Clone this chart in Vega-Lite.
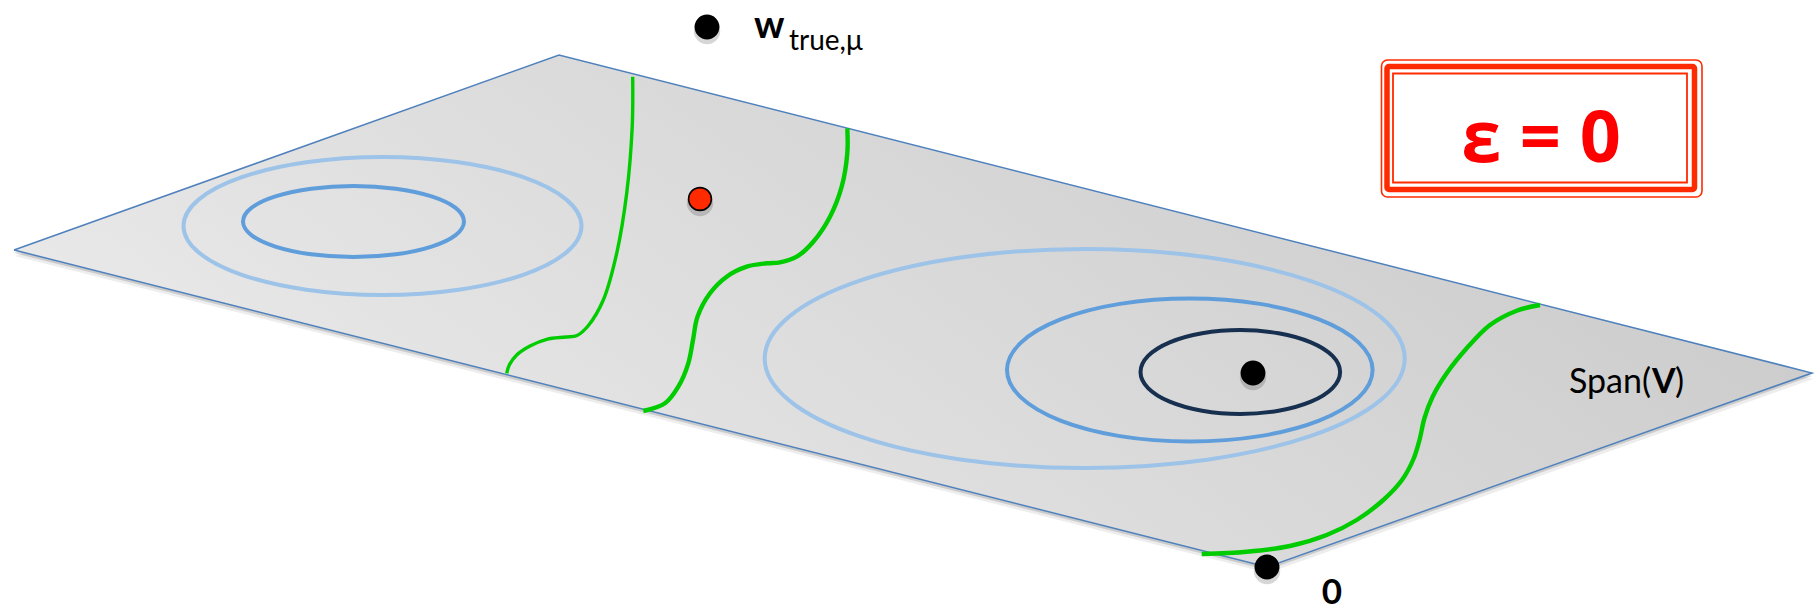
{
  "$schema": "https://vega.github.io/schema/vega-lite/v6.json",
  "width": 1820,
  "height": 611,
  "padding": 0,
  "autosize": {"type": "none"},
  "background": "white",
  "config": {"view": {"stroke": null}},
  "datasets": {
    "plane": [
      {"i": 0, "u": 14, "v": 250},
      {"i": 1, "u": 559, "v": 55},
      {"i": 2, "u": 1812, "v": 373},
      {"i": 3, "u": 1267, "v": 567},
      {"i": 4, "u": 14, "v": 250}
    ],
    "levels": [
      {"id": "L1", "level": "light", "i": 0, "u": 581.5, "v": 226},
      {"id": "L1", "level": "light", "i": 1, "u": 566.4, "v": 252.4},
      {"id": "L1", "level": "light", "i": 2, "u": 523.2, "v": 274.8},
      {"id": "L1", "level": "light", "i": 3, "u": 458.7, "v": 289.7},
      {"id": "L1", "level": "light", "i": 4, "u": 382.5, "v": 295},
      {"id": "L1", "level": "light", "i": 5, "u": 306.3, "v": 289.7},
      {"id": "L1", "level": "light", "i": 6, "u": 241.8, "v": 274.8},
      {"id": "L1", "level": "light", "i": 7, "u": 198.6, "v": 252.4},
      {"id": "L1", "level": "light", "i": 8, "u": 183.5, "v": 226},
      {"id": "L1", "level": "light", "i": 9, "u": 198.6, "v": 199.6},
      {"id": "L1", "level": "light", "i": 10, "u": 241.8, "v": 177.2},
      {"id": "L1", "level": "light", "i": 11, "u": 306.3, "v": 162.3},
      {"id": "L1", "level": "light", "i": 12, "u": 382.5, "v": 157},
      {"id": "L1", "level": "light", "i": 13, "u": 458.7, "v": 162.3},
      {"id": "L1", "level": "light", "i": 14, "u": 523.2, "v": 177.2},
      {"id": "L1", "level": "light", "i": 15, "u": 566.4, "v": 199.6},
      {"id": "L2", "level": "mid", "i": 0, "u": 464, "v": 221.5},
      {"id": "L2", "level": "mid", "i": 1, "u": 455.6, "v": 235.1},
      {"id": "L2", "level": "mid", "i": 2, "u": 431.6, "v": 246.6},
      {"id": "L2", "level": "mid", "i": 3, "u": 395.8, "v": 254.3},
      {"id": "L2", "level": "mid", "i": 4, "u": 353.5, "v": 257},
      {"id": "L2", "level": "mid", "i": 5, "u": 311.2, "v": 254.3},
      {"id": "L2", "level": "mid", "i": 6, "u": 275.4, "v": 246.6},
      {"id": "L2", "level": "mid", "i": 7, "u": 251.4, "v": 235.1},
      {"id": "L2", "level": "mid", "i": 8, "u": 243, "v": 221.5},
      {"id": "L2", "level": "mid", "i": 9, "u": 251.4, "v": 207.9},
      {"id": "L2", "level": "mid", "i": 10, "u": 275.4, "v": 196.4},
      {"id": "L2", "level": "mid", "i": 11, "u": 311.2, "v": 188.7},
      {"id": "L2", "level": "mid", "i": 12, "u": 353.5, "v": 186},
      {"id": "L2", "level": "mid", "i": 13, "u": 395.8, "v": 188.7},
      {"id": "L2", "level": "mid", "i": 14, "u": 431.6, "v": 196.4},
      {"id": "L2", "level": "mid", "i": 15, "u": 455.6, "v": 207.9},
      {"id": "R1", "level": "light", "i": 0, "u": 1404.7, "v": 358.5},
      {"id": "R1", "level": "light", "i": 1, "u": 1380.3, "v": 400.4},
      {"id": "R1", "level": "light", "i": 2, "u": 1311, "v": 435.9},
      {"id": "R1", "level": "light", "i": 3, "u": 1207.2, "v": 459.7},
      {"id": "R1", "level": "light", "i": 4, "u": 1084.7, "v": 468},
      {"id": "R1", "level": "light", "i": 5, "u": 962.2, "v": 459.7},
      {"id": "R1", "level": "light", "i": 6, "u": 858.4, "v": 435.9},
      {"id": "R1", "level": "light", "i": 7, "u": 789.1, "v": 400.4},
      {"id": "R1", "level": "light", "i": 8, "u": 764.7, "v": 358.5},
      {"id": "R1", "level": "light", "i": 9, "u": 789.1, "v": 316.6},
      {"id": "R1", "level": "light", "i": 10, "u": 858.4, "v": 281.1},
      {"id": "R1", "level": "light", "i": 11, "u": 962.2, "v": 257.3},
      {"id": "R1", "level": "light", "i": 12, "u": 1084.7, "v": 249},
      {"id": "R1", "level": "light", "i": 13, "u": 1207.2, "v": 257.3},
      {"id": "R1", "level": "light", "i": 14, "u": 1311, "v": 281.1},
      {"id": "R1", "level": "light", "i": 15, "u": 1380.3, "v": 316.6},
      {"id": "R2", "level": "mid", "i": 0, "u": 1372.6, "v": 370},
      {"id": "R2", "level": "mid", "i": 1, "u": 1358.7, "v": 397.4},
      {"id": "R2", "level": "mid", "i": 2, "u": 1319.1, "v": 420.6},
      {"id": "R2", "level": "mid", "i": 3, "u": 1259.8, "v": 436.1},
      {"id": "R2", "level": "mid", "i": 4, "u": 1189.8, "v": 441.5},
      {"id": "R2", "level": "mid", "i": 5, "u": 1119.8, "v": 436.1},
      {"id": "R2", "level": "mid", "i": 6, "u": 1060.5, "v": 420.6},
      {"id": "R2", "level": "mid", "i": 7, "u": 1020.9, "v": 397.4},
      {"id": "R2", "level": "mid", "i": 8, "u": 1007, "v": 370},
      {"id": "R2", "level": "mid", "i": 9, "u": 1020.9, "v": 342.6},
      {"id": "R2", "level": "mid", "i": 10, "u": 1060.5, "v": 319.4},
      {"id": "R2", "level": "mid", "i": 11, "u": 1119.8, "v": 303.9},
      {"id": "R2", "level": "mid", "i": 12, "u": 1189.8, "v": 298.5},
      {"id": "R2", "level": "mid", "i": 13, "u": 1259.8, "v": 303.9},
      {"id": "R2", "level": "mid", "i": 14, "u": 1319.1, "v": 319.4},
      {"id": "R2", "level": "mid", "i": 15, "u": 1358.7, "v": 342.6},
      {"id": "R3", "level": "dark", "i": 0, "u": 1340.1, "v": 372},
      {"id": "R3", "level": "dark", "i": 1, "u": 1332.5, "v": 388.1},
      {"id": "R3", "level": "dark", "i": 2, "u": 1310.9, "v": 401.7},
      {"id": "R3", "level": "dark", "i": 3, "u": 1278.5, "v": 410.8},
      {"id": "R3", "level": "dark", "i": 4, "u": 1240.3, "v": 414},
      {"id": "R3", "level": "dark", "i": 5, "u": 1202.1, "v": 410.8},
      {"id": "R3", "level": "dark", "i": 6, "u": 1169.7, "v": 401.7},
      {"id": "R3", "level": "dark", "i": 7, "u": 1148.1, "v": 388.1},
      {"id": "R3", "level": "dark", "i": 8, "u": 1140.5, "v": 372},
      {"id": "R3", "level": "dark", "i": 9, "u": 1148.1, "v": 355.9},
      {"id": "R3", "level": "dark", "i": 10, "u": 1169.7, "v": 342.3},
      {"id": "R3", "level": "dark", "i": 11, "u": 1202.1, "v": 333.2},
      {"id": "R3", "level": "dark", "i": 12, "u": 1240.3, "v": 330},
      {"id": "R3", "level": "dark", "i": 13, "u": 1278.5, "v": 333.2},
      {"id": "R3", "level": "dark", "i": 14, "u": 1310.9, "v": 342.3},
      {"id": "R3", "level": "dark", "i": 15, "u": 1332.5, "v": 355.9}
    ],
    "boundary": [
      {"curve": "a", "i": 0, "u": 632.7, "v": 76.7},
      {"curve": "a", "i": 1, "u": 632.2, "v": 127},
      {"curve": "a", "i": 2, "u": 626.7, "v": 193.3},
      {"curve": "a", "i": 3, "u": 616.7, "v": 253.3},
      {"curve": "a", "i": 4, "u": 603.3, "v": 300},
      {"curve": "a", "i": 5, "u": 588, "v": 326},
      {"curve": "a", "i": 6, "u": 577, "v": 335.5},
      {"curve": "a", "i": 7, "u": 566, "v": 337},
      {"curve": "a", "i": 8, "u": 546.7, "v": 339.3},
      {"curve": "a", "i": 9, "u": 530, "v": 346},
      {"curve": "a", "i": 10, "u": 516.7, "v": 355},
      {"curve": "a", "i": 11, "u": 509.3, "v": 365},
      {"curve": "a", "i": 12, "u": 506.7, "v": 373.3},
      {"curve": "b", "i": 0, "u": 847.3, "v": 128.3},
      {"curve": "b", "i": 1, "u": 847.3, "v": 153.3},
      {"curve": "b", "i": 2, "u": 841.7, "v": 186.7},
      {"curve": "b", "i": 3, "u": 830, "v": 216.7},
      {"curve": "b", "i": 4, "u": 813.3, "v": 241.7},
      {"curve": "b", "i": 5, "u": 796.7, "v": 256.7},
      {"curve": "b", "i": 6, "u": 780, "v": 262.3},
      {"curve": "b", "i": 7, "u": 766.7, "v": 263.3},
      {"curve": "b", "i": 8, "u": 746.7, "v": 266.7},
      {"curve": "b", "i": 9, "u": 726.7, "v": 276.7},
      {"curve": "b", "i": 10, "u": 710, "v": 293.3},
      {"curve": "b", "i": 11, "u": 697.5, "v": 316.7},
      {"curve": "b", "i": 12, "u": 693, "v": 340},
      {"curve": "b", "i": 13, "u": 688.3, "v": 363.3},
      {"curve": "b", "i": 14, "u": 678.3, "v": 386.7},
      {"curve": "b", "i": 15, "u": 665, "v": 403.3},
      {"curve": "b", "i": 16, "u": 643.3, "v": 411},
      {"curve": "c", "i": 0, "u": 1540, "v": 305},
      {"curve": "c", "i": 1, "u": 1516.7, "v": 310.7},
      {"curve": "c", "i": 2, "u": 1490, "v": 325},
      {"curve": "c", "i": 3, "u": 1466.7, "v": 348.3},
      {"curve": "c", "i": 4, "u": 1446.7, "v": 373.3},
      {"curve": "c", "i": 5, "u": 1432.5, "v": 397},
      {"curve": "c", "i": 6, "u": 1424.5, "v": 418},
      {"curve": "c", "i": 7, "u": 1419.5, "v": 440},
      {"curve": "c", "i": 8, "u": 1413.5, "v": 459},
      {"curve": "c", "i": 9, "u": 1402, "v": 480},
      {"curve": "c", "i": 10, "u": 1383.3, "v": 500},
      {"curve": "c", "i": 11, "u": 1356.7, "v": 520},
      {"curve": "c", "i": 12, "u": 1326.7, "v": 535},
      {"curve": "c", "i": 13, "u": 1290, "v": 546},
      {"curve": "c", "i": 14, "u": 1246.7, "v": 551.7},
      {"curve": "c", "i": 15, "u": 1201.7, "v": 554}
    ],
    "points": [
      {"name": "w_true", "kind": "black", "u": 707, "v": 27},
      {"name": "minimum", "kind": "black", "u": 1253, "v": 373},
      {"name": "origin", "kind": "black", "u": 1267, "v": 567},
      {"name": "estimate", "kind": "red", "u": 700, "v": 199}
    ],
    "frame": [
      {"ring": "outer", "u": 1381.5, "u2": 1702, "v": 60, "v2": 197},
      {"ring": "band", "u": 1387, "u2": 1694.5, "v": 66.5, "v2": 189.5},
      {"ring": "inner", "u": 1393, "u2": 1687, "v": 73.5, "v2": 182.5}
    ]
  },
  "encoding": {
    "x": {"field": "u", "type": "quantitative", "scale": {"domain": [0, 1820], "range": [0, 1820], "nice": false, "zero": false}, "axis": null},
    "y": {"field": "v", "type": "quantitative", "scale": {"domain": [0, 611], "range": [0, 611], "nice": false, "zero": false}, "axis": null}
  },
  "layer": [
    {
      "data": {"name": "plane"},
      "mark": {"type": "line", "fill": "#000000", "fillOpacity": 0.07, "strokeOpacity": 0, "yOffset": 6, "xOffset": 1},
      "encoding": {"order": {"field": "i", "type": "quantitative"}}
    },
    {
      "data": {"name": "plane"},
      "mark": {"type": "line", "fill": "#000000", "fillOpacity": 0.14, "strokeOpacity": 0, "yOffset": 3},
      "encoding": {"order": {"field": "i", "type": "quantitative"}}
    },
    {
      "data": {"name": "plane"},
      "mark": {
        "type": "line",
        "fill": {"gradient": "linear", "x1": 0, "y1": 0.7, "x2": 1, "y2": 0.3,
                 "stops": [{"offset": 0, "color": "#ececec"}, {"offset": 1, "color": "#c9c9c9"}]},
        "stroke": "#4f81bd",
        "strokeWidth": 1.5,
        "strokeJoin": "miter"
      },
      "encoding": {"order": {"field": "i", "type": "quantitative"}}
    },
    {
      "data": {"name": "levels"},
      "mark": {"type": "line", "interpolate": "cardinal-closed", "strokeWidth": 4},
      "encoding": {
        "detail": {"field": "id"},
        "order": {"field": "i", "type": "quantitative"},
        "color": {"field": "level", "type": "nominal", "legend": null,
                  "scale": {"domain": ["light", "mid", "dark"], "range": ["#9dc3e8", "#5f9ddb", "#17304f"]}}
      }
    },
    {
      "data": {"name": "boundary"},
      "transform": [{"filter": "datum.curve === 'a'"}],
      "mark": {"type": "line", "interpolate": "catmull-rom", "color": "#00cc00", "strokeWidth": 3.4},
      "encoding": {"detail": {"field": "curve"}, "order": {"field": "i", "type": "quantitative"}}
    },
    {
      "data": {"name": "boundary"},
      "transform": [{"filter": "datum.curve !== 'a'"}],
      "mark": {"type": "line", "interpolate": "catmull-rom", "color": "#00cc00", "strokeWidth": 4.4},
      "encoding": {"detail": {"field": "curve"}, "order": {"field": "i", "type": "quantitative"}}
    },
    {
      "data": {"name": "points"},
      "mark": {"type": "circle", "color": "#000000", "opacity": 0.16, "size": 700, "yOffset": 4},
      "encoding": {}
    },
    {
      "data": {"name": "points"},
      "transform": [{"filter": "datum.kind === 'black'"}],
      "mark": {"type": "circle", "color": "#000000", "opacity": 1, "size": 616},
      "encoding": {}
    },
    {
      "data": {"name": "points"},
      "transform": [{"filter": "datum.kind === 'red'"}],
      "mark": {"type": "circle", "fill": "#ff2a00", "stroke": "#000000", "strokeWidth": 1.6, "opacity": 1, "size": 520},
      "encoding": {}
    },
    {
      "data": {"name": "frame"},
      "transform": [{"filter": "datum.ring === 'outer'"}],
      "mark": {"type": "rect", "fill": "#ffffff", "stroke": "#ff2a00", "strokeWidth": 1.6, "cornerRadius": 6},
      "encoding": {"x2": {"field": "u2"}, "y2": {"field": "v2"}}
    },
    {
      "data": {"name": "frame"},
      "transform": [{"filter": "datum.ring === 'band'"}],
      "mark": {"type": "rect", "fill": null, "fillOpacity": 0, "stroke": "#ff2a00", "strokeWidth": 5.5, "cornerRadius": 2},
      "encoding": {"x2": {"field": "u2"}, "y2": {"field": "v2"}}
    },
    {
      "data": {"name": "frame"},
      "transform": [{"filter": "datum.ring === 'inner'"}],
      "mark": {"type": "rect", "fill": null, "fillOpacity": 0, "stroke": "#ff2a00", "strokeWidth": 1.8},
      "encoding": {"x2": {"field": "u2"}, "y2": {"field": "v2"}}
    },
    {
      "data": {"values": [{"t": "ε = 0", "u": 1541, "v": 162}]},
      "mark": {"type": "text", "font": "Open Sans", "fontWeight": "bold", "fontSize": 72, "color": "#ff0000", "align": "center", "baseline": "alphabetic"},
      "encoding": {"text": {"field": "t"}}
    },
    {
      "data": {"values": [{"t": "w", "u": 754, "v": 38}]},
      "mark": {"type": "text", "font": "Lato", "fontWeight": "bold", "fontSize": 38, "color": "#000000", "align": "left", "baseline": "alphabetic"},
      "encoding": {"text": {"field": "t"}}
    },
    {
      "data": {"values": [{"t": "true,μ", "u": 789, "v": 50}]},
      "mark": {"type": "text", "font": "Lato", "fontSize": 28, "color": "#000000", "align": "left", "baseline": "alphabetic"},
      "encoding": {"text": {"field": "t"}}
    },
    {
      "data": {"values": [{"t": "Span(", "u": 1651, "v": 393}]},
      "mark": {"type": "text", "font": "Lato", "fontSize": 34, "color": "#000000", "align": "right", "baseline": "alphabetic"},
      "encoding": {"text": {"field": "t"}}
    },
    {
      "data": {"values": [{"t": "V", "u": 1652, "v": 393}]},
      "mark": {"type": "text", "font": "Lato", "fontWeight": "bold", "fontSize": 34, "color": "#000000", "align": "left", "baseline": "alphabetic"},
      "encoding": {"text": {"field": "t"}}
    },
    {
      "data": {"values": [{"t": ")", "u": 1675, "v": 393}]},
      "mark": {"type": "text", "font": "Lato", "fontSize": 34, "color": "#000000", "align": "left", "baseline": "alphabetic"},
      "encoding": {"text": {"field": "t"}}
    },
    {
      "data": {"values": [{"t": "0", "u": 1332, "v": 604}]},
      "mark": {"type": "text", "font": "Lato", "fontWeight": "bold", "fontSize": 35, "color": "#000000", "align": "center", "baseline": "alphabetic"},
      "encoding": {"text": {"field": "t"}}
    }
  ]
}
